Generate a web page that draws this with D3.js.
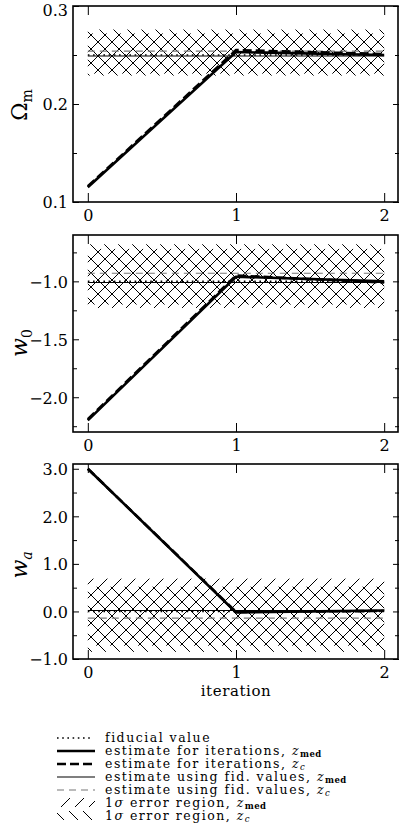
<!DOCTYPE html>
<html>
<head>
<meta charset="utf-8">
<script src="https://cdn.jsdelivr.net/npm/d3@7"></script>
<style>
  body { margin: 0; background: #fff; }
  svg { display: block; font-family: "DejaVu Serif", serif; }
</style>
</head>
<body>
<svg width="400" height="834"></svg>
<script>
// iterations along x
var iterations = [0, 1, 2];
var xTicks = [0, 1, 2];

// Omega_m
var omFiducial = 0.25;
var omIterMed = [0.115, 0.253, 0.250];
var omIterC = [0.116, 0.255, 0.251];
var omFidMed = 0.249;
var omFidC = 0.254;
var omErrMed = [0.231, 0.272];
var omErrC = [0.229, 0.276];
var omTicks = [0.1, 0.2, 0.3];
var omMinor = [0.15, 0.25];

// w_0
var w0Fiducial = -1.0;
var w0IterMed = [-2.20, -0.96, -1.00];
var w0IterC = [-2.19, -0.95, -1.01];
var w0FidMed = -1.01;
var w0FidC = -0.93;
var w0ErrMed = [-1.23, -0.72];
var w0ErrC = [-1.20, -0.68];
var w0Ticks = [-2.0, -1.5, -1.0];
var w0Minor = [-2.25, -1.75, -1.25, -0.75];

// w_a
var waFiducial = 0.0;
var waIterMed = [3.0, -0.02, 0.02];
var waIterC = [3.0, -0.01, 0.01];
var waFidMed = 0.02;
var waFidC = -0.14;
var waErrMed = [-0.72, 0.69];
var waErrC = [-0.85, 0.52];
var waTicks = [-1.0, 0.0, 1.0, 2.0, 3.0];
var waMinor = [-0.5, 0.5, 1.5, 2.5];

var legendLabels = [
  { kind: "fid", text: "fiducial value" },
  { kind: "iterMed", text: "estimate for iterations, ", sub: "med" },
  { kind: "iterC", text: "estimate for iterations, ", sub: "c" },
  { kind: "fidMed", text: "estimate using fid. values, ", sub: "med" },
  { kind: "fidC", text: "estimate using fid. values, ", sub: "c" },
  { kind: "errMed", text: " error region, ", sub: "med" },
  { kind: "errC", text: " error region, ", sub: "c" }
];

var styles = {
  fid: { width: 1.6, dash: "1.6,3.6", color: "#000" },
  iterMed: { width: 2.6, dash: null, color: "#000" },
  iterC: { width: 2.6, dash: "9,4", color: "#000" },
  fidMed: { width: 1.1, dash: null, color: "#000" },
  fidC: { width: 1.1, dash: "7,5", color: "#777" }
};

var FONT = "DejaVu Serif, serif";
var svg = d3.select("svg");
var defs = svg.append("defs");

function hatch(id, forward) {
  var s = 14;
  var p = defs.append("pattern")
    .attr("id", id)
    .attr("patternUnits", "userSpaceOnUse")
    .attr("width", s).attr("height", s);
  p.append("path")
    .attr("d", forward
      ? "M-2,2 L2,-2 M0," + s + " L" + s + ",0 M" + (s - 2) + "," + (s + 2) + " L" + (s + 2) + "," + (s - 2)
      : "M-2," + (s - 2) + " L2," + (s + 2) + " M0,0 L" + s + "," + s + " M" + (s - 2) + ",-2 L" + (s + 2) + ",2")
    .attr("stroke", "#000")
    .attr("stroke-width", 1);
}
hatch("hatchMed", true);
hatch("hatchC", false);

var x = d3.scaleLinear().domain([-0.1, 2.1]).range([73, 399]);

var panels = [
  { top: 6, bottom: 202, domain: [0.1, 0.3], ticks: omTicks, minor: omMinor,
    fiducial: omFiducial, iterMed: omIterMed, iterC: omIterC, fidMed: omFidMed, fidC: omFidC,
    errMed: omErrMed, errC: omErrC, label: "Ω", sub: "m", subItalic: false, labelY: 105 },
  { top: 235, bottom: 432, domain: [-2.3, -0.6], ticks: w0Ticks, minor: w0Minor,
    fiducial: w0Fiducial, iterMed: w0IterMed, iterC: w0IterC, fidMed: w0FidMed, fidC: w0FidC,
    errMed: w0ErrMed, errC: w0ErrC, label: "w", sub: "0", subItalic: false, labelY: 343 },
  { top: 464, bottom: 659, domain: [-1.0, 3.1], ticks: waTicks, minor: waMinor,
    fiducial: waFiducial, iterMed: waIterMed, iterC: waIterC, fidMed: waFidMed, fidC: waFidC,
    errMed: waErrMed, errC: waErrC, label: "w", sub: "a", subItalic: true, labelY: 565 }
];

function styled(sel, s) {
  sel.attr("fill", "none")
    .attr("stroke", s.color)
    .attr("stroke-width", s.width)
    .attr("stroke-dasharray", s.dash);
  return sel;
}

var yFormat = d3.format(".1f");

panels.forEach(function (p, i) {
  var y = d3.scaleLinear().domain(p.domain).range([p.bottom, p.top]);
  var g = svg.append("g");
  var x0 = x(iterations[0]), x2 = x(iterations[iterations.length - 1]);

  // error regions
  g.append("rect")
    .attr("x", x0).attr("width", x2 - x0)
    .attr("y", y(p.errMed[1])).attr("height", y(p.errMed[0]) - y(p.errMed[1]))
    .attr("fill", "url(#hatchMed)");
  g.append("rect")
    .attr("x", x0).attr("width", x2 - x0)
    .attr("y", y(p.errC[1])).attr("height", y(p.errC[0]) - y(p.errC[1]))
    .attr("fill", "url(#hatchC)");

  function hline(v, s) {
    styled(g.append("line"), s)
      .attr("x1", x0).attr("x2", x2)
      .attr("y1", y(v)).attr("y2", y(v));
  }
  hline(p.fidC, styles.fidC);
  hline(p.fidMed, styles.fidMed);
  hline(p.fiducial, styles.fid);

  var line = d3.line()
    .x(function (d, j) { return x(iterations[j]); })
    .y(function (d) { return y(d); });
  styled(g.append("path"), styles.iterC).attr("d", line(p.iterC));
  styled(g.append("path"), styles.iterMed).attr("d", line(p.iterMed));

  // axes: ticks inside on all four sides, labels only left and bottom
  var axes = [
    { gen: d3.axisBottom(x).tickValues(xTicks).tickFormat(d3.format("d")), tr: "translate(0," + p.bottom + ")", size: -9, labels: true },
    { gen: d3.axisTop(x).tickValues(xTicks), tr: "translate(0," + p.top + ")", size: -9, labels: false },
    { gen: d3.axisLeft(y).tickValues(p.ticks), tr: "translate(" + x.range()[0] + ",0)", size: -6, labels: true },
    { gen: d3.axisRight(y).tickValues(p.ticks), tr: "translate(" + x.range()[1] + ",0)", size: -6, labels: false },
    { gen: d3.axisLeft(y).tickValues(p.minor), tr: "translate(" + x.range()[0] + ",0)", size: -4, labels: false },
    { gen: d3.axisRight(y).tickValues(p.minor), tr: "translate(" + x.range()[1] + ",0)", size: -4, labels: false }
  ];
  axes.forEach(function (a, k) {
    a.gen.tickSizeInner(a.size).tickSizeOuter(0);
    if (k === 2) a.gen.tickFormat(function (d) { return yFormat(d).replace("-", "\u2212"); });
    var ag = svg.append("g").attr("transform", a.tr).call(a.gen)
      .attr("font-family", FONT)
      .attr("font-size", 16);
    ag.select(".domain").remove();
    ag.selectAll(".tick line").attr("stroke", "#000").attr("stroke-width", 1);
    ag.selectAll("text").attr("fill", "#000");
    if (!a.labels) ag.selectAll("text").remove();
    else if (k === 0) ag.selectAll("text").attr("dy", null).attr("y", 19);
    else ag.selectAll("text")
      .attr("x", -5).attr("dy", "0.36em")
      // keep the label at the very top of the page inside the picture
      .attr("y", function (d) { return Math.max(0, 10 - y(d)); });
  });

  svg.append("rect")
    .attr("x", x.range()[0]).attr("y", p.top)
    .attr("width", x.range()[1] - x.range()[0] - 1).attr("height", p.bottom - p.top)
    .attr("fill", "none").attr("stroke", "#000").attr("stroke-width", 1.6);

  var lab = svg.append("text")
    .attr("transform", "translate(27," + p.labelY + ") rotate(-90)")
    .attr("text-anchor", "middle")
    .style("font-size", "22px");
  lab.append("tspan")
    .style("font-style", p.label === "w" ? "italic" : "normal")
    .text(p.label);
  lab.append("tspan")
    .attr("dy", 5)
    .style("font-size", "14px")
    .style("font-style", p.subItalic ? "italic" : "normal")
    .text(p.sub);
});

svg.append("text")
  .attr("x", x(1)).attr("y", 696)
  .attr("text-anchor", "middle")
  .style("font-size", "15px")
  .style("letter-spacing", "0.6px")
  .text("iteration");

// legend
var legend = svg.append("g").attr("class", "legend");
legendLabels.forEach(function (d, i) {
  var ly = 738 + i * 13;
  if (styles[d.kind]) {
    styled(legend.append("line"), styles[d.kind])
      .attr("x1", 57).attr("x2", d.kind === "fid" ? 90 : 95)
      .attr("y1", ly).attr("y2", ly);
  } else {
    legend.append("rect")
      .attr("x", 57).attr("y", ly - 5)
      .attr("width", 38).attr("height", 9)
      .attr("fill", d.kind === "errMed" ? "url(#hatchMed)" : "url(#hatchC)");
  }
  var t = legend.append("text")
    .attr("x", 105).attr("y", ly + 4)
    .style("font-size", "12.5px")
    .style("letter-spacing", "1.5px");
  if (d.kind === "errMed" || d.kind === "errC") {
    t.append("tspan").text("1");
    t.append("tspan").style("font-style", "italic").text("σ");
  }
  t.append("tspan").text(d.text);
  if (d.sub) {
    t.append("tspan").style("font-style", "italic").text("z");
    t.append("tspan")
      .attr("dy", 2)
      .style("font-size", "8.5px")
      .style("letter-spacing", "0.4px")
      .style("font-weight", d.sub === "med" ? "bold" : "normal")
      .style("font-style", d.sub === "c" ? "italic" : "normal")
      .text(d.sub);
  }
});
</script>
</body>
</html>
